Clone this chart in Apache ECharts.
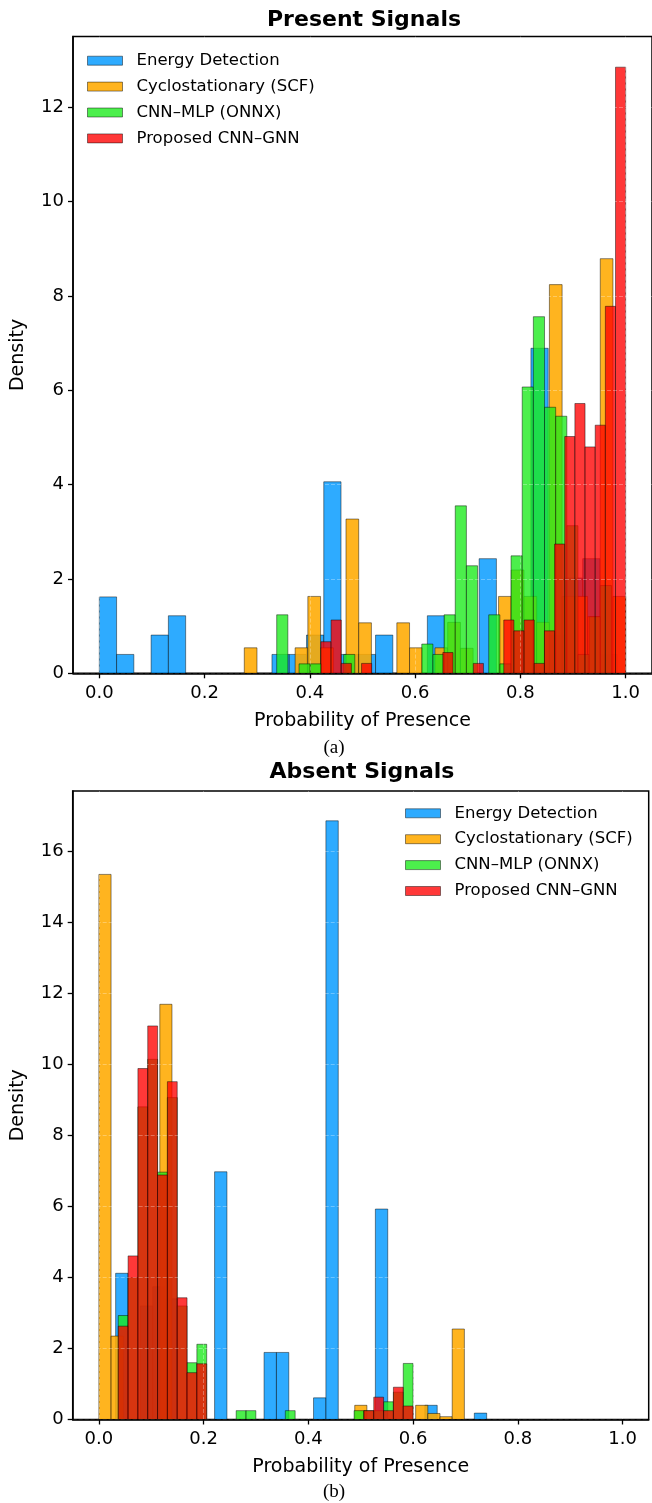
<!DOCTYPE html>
<html>
<head>
<meta charset="utf-8">
<title>Present / Absent Signals</title>
<script src="https://cdn.jsdelivr.net/npm/echarts@6/dist/echarts.min.js"></script>
<style>
  html, body { margin: 0; padding: 0; background: #fff; }
  #chart { width: 652px; height: 1503px; }
</style>
</head>
<body>
<div id="chart"></div>
<script>
// names and ticks
var methodNames = ['Energy Detection', 'Cyclostationary (SCF)', 'CNN–MLP (ONNX)', 'Proposed CNN–GNN'];
var xTicks = [0.0, 0.2, 0.4, 0.6, 0.8, 1.0];
var presentYTicks = [0, 2, 4, 6, 8, 10, 12];
var absentYTicks = [0, 2, 4, 6, 8, 10, 12, 14, 16];

// (a) present signals: histogram range [first edge, last edge] + 30 density values
var presentEnergyRange = [0.0, 0.984];
var presentEnergy = [1.62, 0.40, 0, 0.81, 1.22, 0, 0, 0, 0, 0, 0.40, 0.40, 0.81, 4.06, 0.40,
                     0.40, 0.81, 0, 0, 1.22, 0, 0, 2.43, 0, 0, 6.89, 0.81, 2.02, 2.43, 0.40];
var presentCycloRange = [0.2754, 1.0];
var presentCyclo = [0.54, 0, 0, 0, 0.54, 1.63, 0.54, 0, 3.27, 1.07, 0, 0, 1.07, 0.54, 0,
                    0.54, 1.08, 0.53, 0, 0, 1.63, 2.19, 1.63, 1.08, 8.24, 1.63, 1.63, 1.20, 8.79, 1.63];
var presentMlpRange = [0.337, 0.973];
var presentMlp = [1.24, 0, 0.20, 0.20, 0, 0, 0.40, 0, 0, 0, 0, 0, 0, 0.62, 0.40,
                  1.24, 3.55, 2.28, 0, 1.24, 0.20, 2.49, 6.07, 7.56, 5.64, 5.45, 3.13, 0.40, 1.20, 1.86];
var presentGnnRange = [0.421, 1.0];
var presentGnn = [0.67, 1.13, 0.21, 0, 0.21, 0, 0, 0, 0, 0, 0, 0, 0.44, 0, 0,
                  0.21, 0, 0, 1.13, 0.90, 1.13, 0.21, 0.90, 2.74, 5.02, 5.72, 4.80, 5.26, 7.78, 12.85];

// (b) absent signals
var absentEnergyRange = [0.032, 0.7406];
var absentEnergy = [4.12, 0, 3.20, 3.74, 3.40, 0, 0, 0, 6.98, 0, 0, 0, 1.89, 1.89, 0,
                    0, 0.61, 16.87, 0, 0, 0, 5.93, 0, 0, 0, 0.40, 0, 0, 0, 0.18];
var absentCycloRange = [0.0, 0.698];
var absentCyclo = [15.36, 2.35, 0, 0, 0, 11.70, 0, 0, 0, 0, 0, 0, 0, 0, 0,
                   0, 0, 0, 0, 0, 0, 0.40, 0, 0, 0, 0, 0.40, 0.17, 0.08, 2.55];
var absentMlpRange = [0.037, 0.600];
var absentMlp = [2.93, 4.00, 8.81, 10.15, 6.97, 9.07, 3.20, 1.60, 2.12, 0, 0, 0, 0.25, 0.25, 0,
                 0, 0, 0.25, 0, 0, 0, 0, 0, 0, 0.25, 0.25, 0.25, 0.50, 0.77, 1.58];
var absentGnnRange = [0.037, 0.600];
var absentGnn = [2.63, 4.61, 9.89, 11.09, 6.89, 9.52, 3.43, 1.32, 1.57, 0, 0, 0, 0, 0, 0,
                 0, 0, 0, 0, 0, 0, 0, 0, 0, 0, 0.25, 0.63, 0.25, 0.91, 0.38];

var colors = ['rgba(0,153,255,0.82)', 'rgba(255,170,0,0.88)', 'rgba(25,235,25,0.78)', 'rgba(255,0,0,0.78)'];
var edgeColor = 'rgba(0,0,0,0.45)';
var fontFamily = '"DejaVu Sans", sans-serif';

/**
 * turn a histogram range and its bin heights into [x0, x1, height] items
 */
function binsOf(range, heights) {
    var w = (range[1] - range[0]) / heights.length;
    var out = [];
    heights.forEach(function (h, i) {
        if (h > 0) out.push([range[0] + i * w, range[0] + (i + 1) * w, h]);
    });
    return out;
}

function renderBin(params, api) {
    var topLeft = api.coord([api.value(0), api.value(2)]);
    var bottomRight = api.coord([api.value(1), 0]);
    return {
        type: 'rect',
        shape: {
            x: topLeft[0],
            y: topLeft[1],
            width: bottomRight[0] - topLeft[0],
            height: bottomRight[1] - topLeft[1]
        },
        style: { fill: api.visual('color'), stroke: edgeColor, lineWidth: 1 }
    };
}

function histSeries(name, idx, gridIndex, data) {
    return {
        type: 'custom',
        name: name,
        xAxisIndex: gridIndex,
        yAxisIndex: gridIndex,
        renderItem: renderBin,
        clip: true,
        itemStyle: { color: colors[idx], borderColor: edgeColor, borderWidth: 1 },
        encode: { x: [0, 1], y: 2 },
        data: data
    };
}

// faint grid, only noticeable where it crosses the bars
var gridLine = { show: true, lineStyle: { color: 'rgba(255,255,255,0.3)', width: 1, type: 'dashed' } };

function xAxisFor(gridIndex) {
    return {
        type: 'value',
        gridIndex: gridIndex,
        min: -0.05,
        max: 1.05,
        z: 3,
        name: 'Probability of Presence',
        nameLocation: 'middle',
        nameGap: 38,
        nameTextStyle: { fontSize: 19, color: '#000', fontFamily: fontFamily },
        axisLine: { show: true, onZero: false, lineStyle: { color: '#000', width: 1.5 } },
        axisTick: { show: true, length: 5, customValues: xTicks, lineStyle: { color: '#000', width: 1.3 } },
        axisLabel: {
            customValues: xTicks, margin: 11, fontSize: 18, color: '#000', fontFamily: fontFamily,
            formatter: function (v) { return v.toFixed(1); }
        },
        splitLine: gridLine
    };
}

function yAxisFor(gridIndex, yMax, ticks) {
    return {
        type: 'value',
        gridIndex: gridIndex,
        min: 0,
        max: yMax,
        interval: 2,
        z: 3,
        name: 'Density',
        nameLocation: 'middle',
        nameGap: 45,
        nameRotate: 90,
        nameTextStyle: { fontSize: 19, color: '#000', fontFamily: fontFamily },
        axisLine: { show: true, onZero: false, lineStyle: { color: '#000', width: 1.5 } },
        axisTick: { show: true, length: 5, customValues: ticks, lineStyle: { color: '#000', width: 1.3 } },
        axisLabel: { customValues: ticks, margin: 9, fontSize: 18, color: '#000', fontFamily: fontFamily },
        splitLine: gridLine
    };
}

function legendFor(pos) {
    return Object.assign({
        data: methodNames,
        orient: 'vertical',
        icon: 'rect',
        padding: 0,
        itemWidth: 35,
        itemHeight: 9,
        itemGap: 8.9,
        selectedMode: false,
        itemStyle: { borderColor: edgeColor, borderWidth: 1 },
        textStyle: { fontSize: 16.5, lineHeight: 17, color: '#000', fontFamily: fontFamily, padding: [0, 0, 0, 9] }
    }, pos);
}

var chart = echarts.init(document.getElementById('chart'));

var option = {
    animation: false,
    backgroundColor: '#fff',
    grid: [
        { left: 73, top: 36.5, width: 582, height: 636.8, show: true, borderColor: '#000', borderWidth: 1.5 },
        { left: 72.7, top: 791, width: 576, height: 628.5, show: true, borderColor: '#000', borderWidth: 1.5 }
    ],
    xAxis: [xAxisFor(0), xAxisFor(1)],
    yAxis: [yAxisFor(0, 13.5, presentYTicks), yAxisFor(1, 17.71, absentYTicks)],
    legend: [
        legendFor({ left: 87, top: 52.2 }),
        legendFor({ left: 405, top: 804.8 })
    ],
    graphic: [
        { type: 'text', x: 364, y: 20, style: { text: 'Present Signals', font: 'bold 22px "DejaVu Sans"', fill: '#000', align: 'center', verticalAlign: 'middle' } },
        { type: 'text', x: 362, y: 772, style: { text: 'Absent Signals', font: 'bold 22px "DejaVu Sans"', fill: '#000', align: 'center', verticalAlign: 'middle' } },
        { type: 'text', x: 334, y: 748, style: { text: '(a)', font: '19px "Liberation Serif"', fill: '#000', align: 'center', verticalAlign: 'middle' } },
        { type: 'text', x: 334, y: 1492, style: { text: '(b)', font: '19px "Liberation Serif"', fill: '#000', align: 'center', verticalAlign: 'middle' } }
    ],
    series: [
        histSeries(methodNames[0], 0, 0, binsOf(presentEnergyRange, presentEnergy)),
        histSeries(methodNames[1], 1, 0, binsOf(presentCycloRange, presentCyclo)),
        histSeries(methodNames[2], 2, 0, binsOf(presentMlpRange, presentMlp)),
        histSeries(methodNames[3], 3, 0, binsOf(presentGnnRange, presentGnn)),
        histSeries(methodNames[0], 0, 1, binsOf(absentEnergyRange, absentEnergy)),
        histSeries(methodNames[1], 1, 1, binsOf(absentCycloRange, absentCyclo)),
        histSeries(methodNames[2], 2, 1, binsOf(absentMlpRange, absentMlp)),
        histSeries(methodNames[3], 3, 1, binsOf(absentGnnRange, absentGnn))
    ]
};

chart.setOption(option);
</script>
</body>
</html>
